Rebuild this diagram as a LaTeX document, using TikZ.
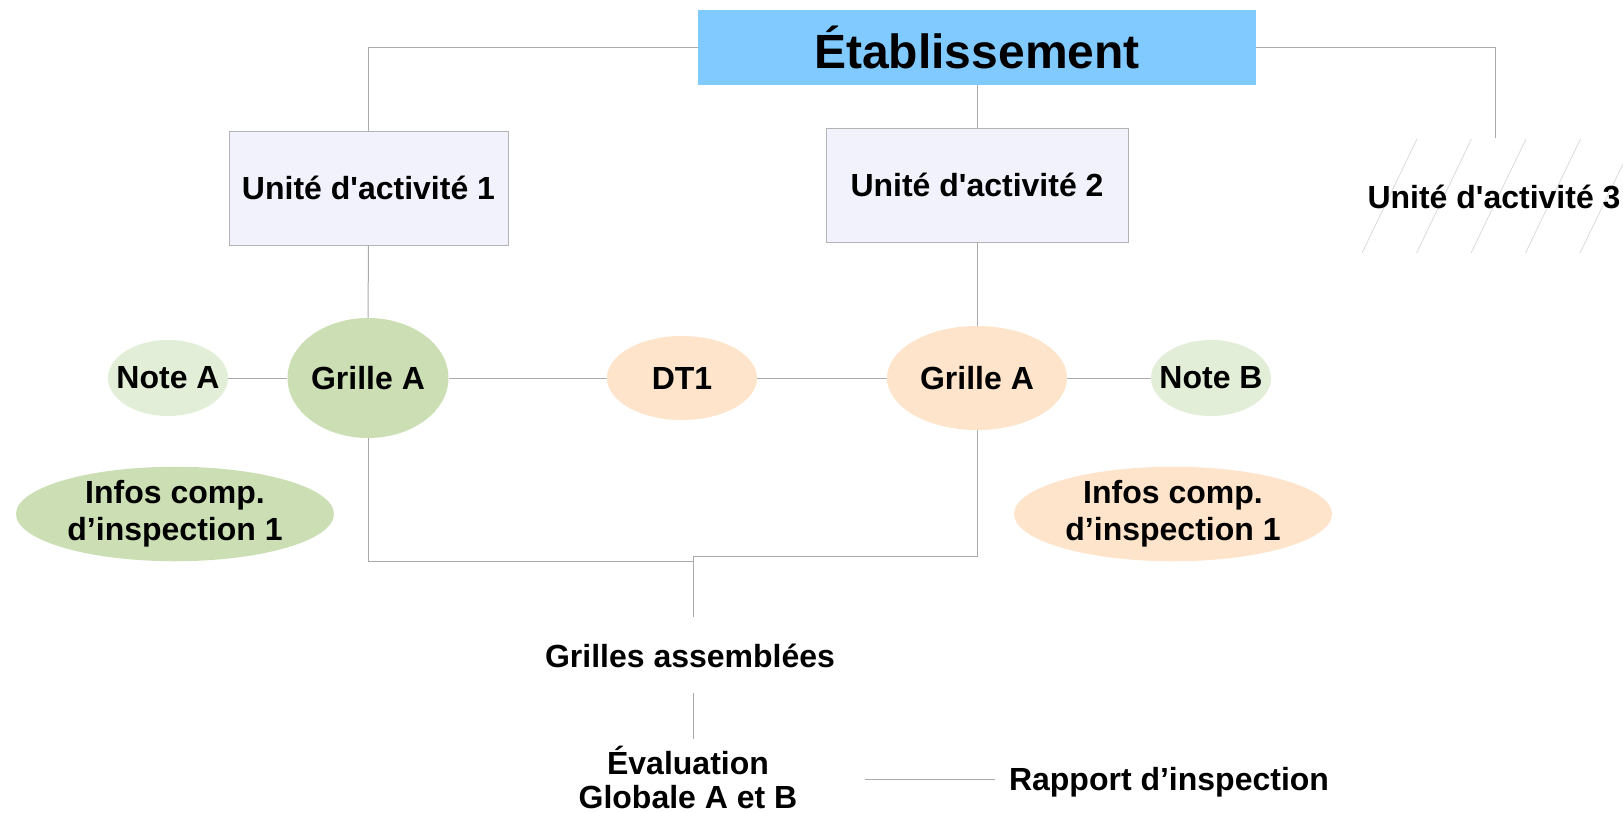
\documentclass[tikz,border=0pt]{standalone}
\usepackage{fontspec}
\setmainfont{Liberation Sans}
\usetikzlibrary{shapes.geometric}

\definecolor{etabblue}{HTML}{80CAFF}
\definecolor{unitfill}{HTML}{F2F2FD}
\definecolor{boxgray}{HTML}{B4B4B4}
\definecolor{linegray}{HTML}{ABABAB}
\definecolor{hatchgray}{HTML}{DADADA}
\definecolor{grillegreen}{HTML}{CCDFB4}
\definecolor{notegreen}{HTML}{E3EED8}
\definecolor{peach}{HTML}{FDE4CB}

\begin{document}
\begin{tikzpicture}[x=1pt,y=-1pt,
  every node/.style={font=\bfseries\fontsize{32}{34}\selectfont,align=center,inner sep=0pt},
  link/.style={draw=linegray,line width=1pt}]
  \tikzset{unit/.style={draw=boxgray,fill=unitfill,line width=0.8pt,minimum height=114pt},
    oval/.style={ellipse,minimum width=#1},
    grille/.style={oval=160pt,minimum height=120pt,fill=grillegreen},
    note/.style={oval=120pt,minimum height=76pt,inner xsep=-10pt,fill=notegreen},
    infos/.style={oval=318pt,minimum height=92pt,inner xsep=-20pt},
    hatch/.style={draw=hatchgray,line width=0.8pt}}
  \useasboundingbox (0,0) rectangle (1623,813);

  % top level
  \node[fill=etabblue,minimum width=558pt,minimum height=75pt,
        font=\bfseries\fontsize{48}{52}\selectfont] (etab) at (977,47.5) {Établissement};
  \node[unit,minimum width=279pt] (ua1) at (368.5,188) {Unité d\textquotesingle activité 1};
  \node[unit,minimum width=302pt] (ua2) at (977,185) {Unité d\textquotesingle activité 2};

  % unit 3, hatched
  \begin{scope}
    \clip (1362,139) rectangle (1623,253);
    \foreach \x in {1362,1416.5,...,1640}
      \draw[hatch] (\x,253) -- ++(55,-114);
  \end{scope}
  \node (ua3) at (1494,197) {Unité d\textquotesingle activité 3};
  \coordinate (ua3top) at (1495,138);

  % grids and notes
  \node[note] (noteA) at (168,378) {Note A};
  \node[grille] (grA) at (368,378) {Grille A};
  \node[oval=150pt,minimum height=84pt,fill=peach] (dt1) at (682,378) {DT1};
  \node[oval=180pt,minimum height=104pt,fill=peach] (grB) at (977,378) {Grille A};
  \node[note] (noteB) at (1211,378) {Note B};
  \node[infos,fill=grillegreen] (infA) at (175,514) {Infos comp.\\[3pt]d’inspection 1};
  \node[infos,fill=peach] (infB) at (1173,514) {Infos comp.\\[3pt]d’inspection 1};

  % assembly
  \coordinate (midL) at (693,561);
  \coordinate (mid) at (693,556);
  \node[inner ysep=26pt,text height=24pt,text depth=0pt] (ga) at (690,655) {Grilles assemblées};
  \node[inner ysep=6pt] (ev) at (688,777) {Évaluation\\Globale A et B};
  \node (rap) at (1169,782) {Rapport d’inspection};
  \coordinate (evr) at (865,779);

  \draw[link] (etab.west) -| (ua1.north);
  \draw[link] (etab.east) -| (ua3top);
  \draw[link] (etab.south) -- (etab.south |- ua2.north);
  \draw[link] (ua1.south) -- (grA.north);
  \draw[link] (ua2.south) -- (grB.north);
  \draw[link] (noteA) -- (grA);
  \draw[link] (grA) -- (dt1);
  \draw[link] (dt1) -- (grB);
  \draw[link] (grB) -- (noteB);
  \draw[link] (grA.south) |- (midL);
  \draw[link] (grB.south) |- (mid) -- (mid |- ga.north);
  \draw[link] (mid |- ga.south) -- (mid |- ev.north);
  \draw[link] (evr) -- (evr -| 995,0);
\end{tikzpicture}
\end{document}
